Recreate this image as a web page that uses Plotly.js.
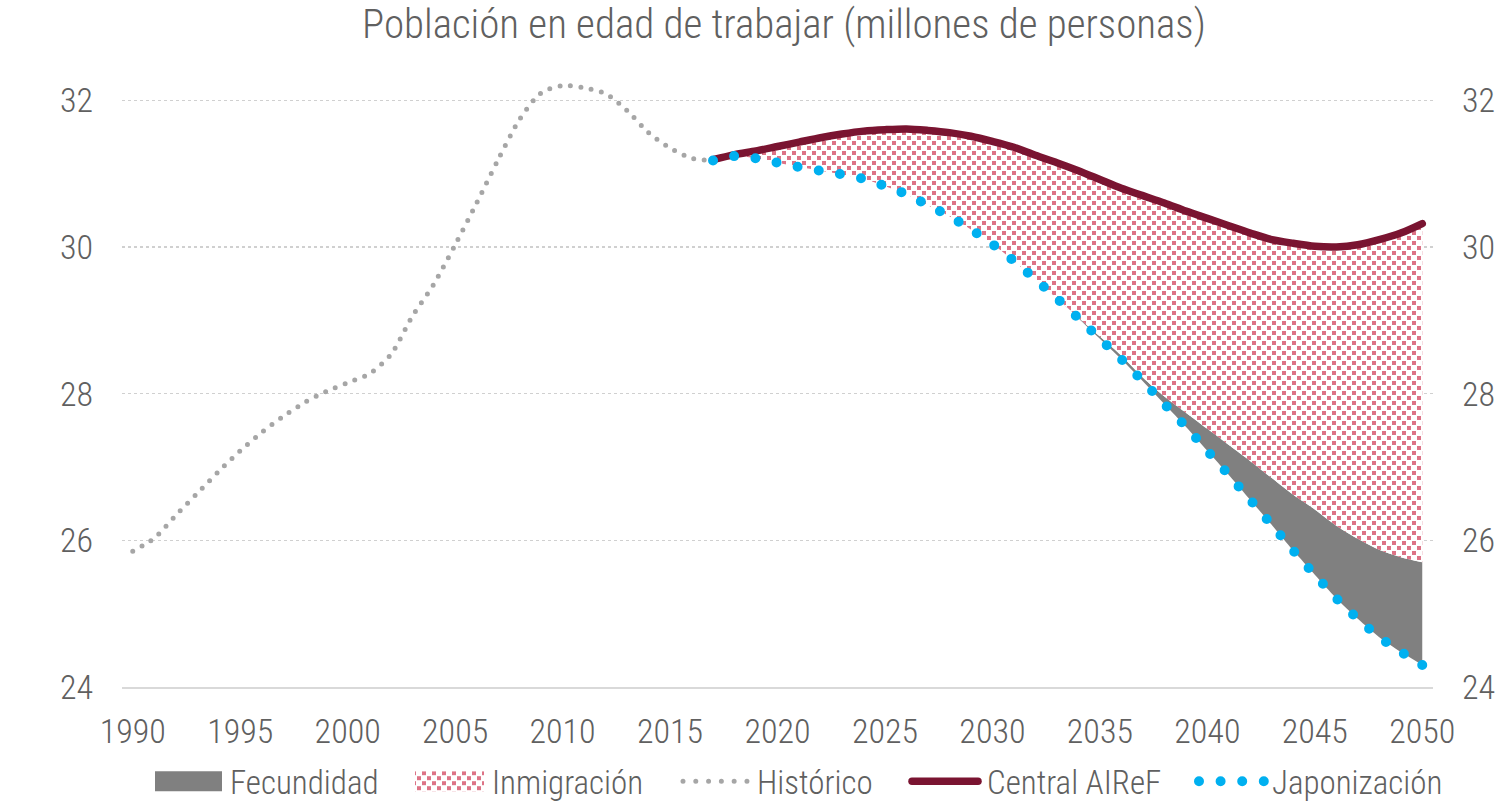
<!DOCTYPE html>
<html>
<head>
<meta charset="utf-8">
<script src="https://cdn.plot.ly/plotly-3.0.1.min.js"></script>
<style>
  html, body { margin: 0; padding: 0; background: #ffffff; }
  #chart { width: 1499px; height: 803px; }
</style>
</head>
<body>
<div id="chart"></div>
<script>
// ---- Data (millones de personas) ----
const histYears = [1990,1991,1992,1993,1994,1995,1996,1997,1998,1999,2000,2001,2002,2003,2004,2005,2006,2007,2008,2009,2010,2011,2012,2013,2014,2015,2016,2017];
const historico = [25.85,26.03,26.34,26.64,26.94,27.22,27.47,27.69,27.88,28.03,28.15,28.27,28.53,29.05,29.49,30.03,30.60,31.19,31.74,32.10,32.20,32.17,32.09,31.86,31.56,31.35,31.21,31.18];

const projYears = [2017,2018,2019,2020,2021,2022,2023,2024,2025,2026,2027,2028,2029,2030,2031,2032,2033,2034,2035,2036,2037,2038,2039,2040,2041,2042,2043,2044,2045,2046,2047,2048,2049,2050];
const centralAIReF = [31.19,31.26,31.31,31.37,31.43,31.49,31.54,31.58,31.60,31.61,31.59,31.56,31.51,31.44,31.36,31.25,31.15,31.04,30.92,30.80,30.70,30.60,30.49,30.39,30.29,30.19,30.10,30.05,30.01,30.00,30.03,30.10,30.19,30.32];
const escenarioFecundidad = [31.18,31.24,31.21,31.15,31.09,31.04,30.99,30.93,30.83,30.72,30.57,30.42,30.24,30.04,29.81,29.56,29.30,29.04,28.78,28.52,28.22,27.96,27.74,27.52,27.30,27.08,26.85,26.62,26.42,26.20,26.02,25.87,25.77,25.70];
const japonizacion = [31.18,31.24,31.21,31.15,31.09,31.04,30.99,30.93,30.83,30.72,30.57,30.42,30.24,30.04,29.81,29.56,29.30,29.03,28.75,28.47,28.17,27.86,27.55,27.22,26.89,26.55,26.21,25.86,25.53,25.21,24.93,24.68,24.48,24.30];

const xTicks = [1990,1995,2000,2005,2010,2015,2020,2025,2030,2035,2040,2045,2050];
const yTicks = [24,26,28,30,32];

const FONT = '"Liberation Sans Narrow", "Arial Narrow", "Roboto Condensed", "Liberation Sans", sans-serif';
const TXT = '#606060';
const PINK = '#DD7386';

const traces = [
  { x: projYears, y: japonizacion, type: 'scatter', mode: 'lines',
    line: { width: 0, shape: 'spline', smoothing: 0.8 }, showlegend: false, hoverinfo: 'skip' },
  { name: 'Fecundidad', x: projYears, y: escenarioFecundidad, type: 'scatter', mode: 'lines',
    line: { width: 0, shape: 'spline', smoothing: 0.8, color: '#808080' },
    fill: 'tonexty', fillcolor: '#808080', legendrank: 1 },
  { name: 'Inmigración', x: projYears, y: centralAIReF, type: 'scatter', mode: 'lines',
    line: { width: 0, shape: 'spline', smoothing: 0.8, color: PINK },
    fill: 'tonexty', fillcolor: '#ffffff',
    fillpattern: { shape: '.', fgcolor: PINK, bgcolor: '#ffffff', size: 6, solidity: 0.4 },
    legendrank: 2 },
  { name: 'Histórico', x: histYears, y: historico, type: 'scatter', mode: 'lines',
    line: { width: 5, color: '#A6A6A6', dash: '0px,10.5px', shape: 'spline', smoothing: 0.8 },
    legendrank: 3 },
  { name: 'Central AIReF', x: projYears, y: centralAIReF, type: 'scatter', mode: 'lines',
    line: { width: 7.5, color: '#7A1431', shape: 'spline', smoothing: 0.8 },
    legendrank: 4 },
  { name: 'Japonización', x: projYears, y: japonizacion, type: 'scatter', mode: 'lines',
    line: { width: 10, color: '#00B0F0', dash: '0px,21.5px', shape: 'spline', smoothing: 0.8 },
    legendrank: 5 },
  // invisible helper so the mirrored right-hand axis is drawn
  { x: histYears, y: historico, type: 'scatter', mode: 'lines', yaxis: 'y2',
    line: { width: 0 }, opacity: 0, showlegend: false, hoverinfo: 'skip' }
];

const layout = {
  width: 1499, height: 803,
  paper_bgcolor: '#ffffff', plot_bgcolor: '#ffffff',
  margin: { l: 122, r: 66, t: 71, b: 116, pad: 0, autoexpand: false },
  font: { family: FONT, color: TXT, size: 32, weight: 300 },
  title: { text: 'Población en edad de trabajar (millones de personas)',
           font: { family: FONT, size: 41, color: TXT, weight: 300 },
           x: 0.523, xanchor: 'center', y: 0.97, yanchor: 'middle' },
  showlegend: true,
  legend: { orientation: 'h', x: 0.53, xanchor: 'center', y: -0.153, yanchor: 'middle',
            font: { family: FONT, size: 33, color: TXT, weight: 300 }, itemwidth: 70,
            traceorder: 'normal', bgcolor: 'rgba(0,0,0,0)' },
  xaxis: { range: [1989.5, 2050.5], tickvals: xTicks, ticktext: xTicks.map(String),
           showgrid: false, zeroline: false, showline: true, linecolor: '#D9D9D9', linewidth: 2,
           ticks: '', automargin: false,
           tickfont: { family: FONT, size: 34, color: TXT, weight: 300 }, ticklabelstandoff: 13 },
  yaxis: { range: [24, 32.4], tickvals: yTicks, ticktext: yTicks.map(String),
           showgrid: true, gridcolor: '#D0D0D0', gridwidth: 1.2, griddash: 'dot',
           zeroline: false, showline: false, ticks: '', automargin: false,
           tickfont: { family: FONT, size: 34, color: TXT, weight: 300 }, ticklabelstandoff: 28 },
  yaxis2: { range: [24, 32.4], tickvals: yTicks, ticktext: yTicks.map(String),
            overlaying: 'y', side: 'right', showgrid: false, zeroline: false, showline: false,
            ticks: '', automargin: false,
            tickfont: { family: FONT, size: 34, color: TXT, weight: 300 }, ticklabelstandoff: 28 }
};

// Legend entry placement (absolute px), matching the reference layout
const legendTargets = {
  'Fecundidad':    { text: 230,  kind: 'rect', x0: 155,  x1: 222 },
  'Inmigración':   { text: 492,  kind: 'rect', x0: 415,  x1: 484 },
  'Histórico':     { text: 757,  kind: 'line', x0: 683,  x1: 747, dash: '0,12.79' },
  'Central AIReF': { text: 987,  kind: 'line', x0: 912,  x1: 978 },
  'Japonización':  { text: 1272, kind: 'line', x0: 1199, x1: 1264, dash: '0,21.6' }
};

function restyleSvg() {
  // round caps for every line (dotted lines become round dots)
  document.querySelectorAll('path.js-line').forEach(function (p) { p.style.strokeLinecap = 'round'; });

  // let the Japonización dots end exactly on its last point
  const tracesG = document.querySelectorAll('.scatterlayer .trace');
  if (tracesG[5]) {
    const jp = tracesG[5].querySelector('path.js-line');
    if (jp) {
      const L = jp.getTotalLength();
      const n = Math.max(1, Math.round(L / 21.5));
      jp.style.strokeDasharray = '0,' + (L / n - 0.001);
    }
  }

  // checkerboard-like square pattern for "Inmigración"
  const NS = 'http://www.w3.org/2000/svg';
  const TILE = 10, SQ = 4;
  document.querySelectorAll('pattern').forEach(function (pat) {
    while (pat.firstChild) pat.removeChild(pat.firstChild);
    pat.setAttribute('width', TILE); pat.setAttribute('height', TILE);
    pat.setAttribute('patternUnits', 'userSpaceOnUse');
    const bg = document.createElementNS(NS, 'rect');
    bg.setAttribute('x', 0); bg.setAttribute('y', 0); bg.setAttribute('width', TILE); bg.setAttribute('height', TILE);
    bg.setAttribute('fill', '#ffffff'); pat.appendChild(bg);
    [[0, 0], [TILE / 2, TILE / 2]].forEach(function (c) {
      const r = document.createElementNS(NS, 'rect');
      r.setAttribute('x', c[0]); r.setAttribute('y', c[1]); r.setAttribute('width', SQ); r.setAttribute('height', SQ);
      r.setAttribute('fill', PINK); r.setAttribute('shape-rendering', 'crispEdges');
      pat.appendChild(r);
    });
  });

  // legend placement
  document.querySelectorAll('.legend .scrollbox').forEach(function (sb) { sb.removeAttribute('clip-path'); });
  document.querySelectorAll('.legend .traces').forEach(function (g) {
    const t = g.querySelector('text.legendtext');
    if (!t) return;
    const tg = legendTargets[t.textContent];
    if (!tg) return;
    const tr = g.getAttribute('transform') || 'translate(0,0)';
    const m = /translate\(\s*([-\d.e]+)[\s,]+([-\d.e]+)\s*\)/.exec(tr) || [0, 0, 0];
    const dx = tg.text - t.getBoundingClientRect().left;
    g.setAttribute('transform', 'translate(' + (parseFloat(m[1]) + dx) + ',' + parseFloat(m[2]) + ')');
    const ox = g.getScreenCTM().e;
    if (tg.kind === 'rect') {
      g.querySelectorAll('.legendfill path').forEach(function (p) {
        const w = tg.x1 - tg.x0;
        p.setAttribute('d', 'M' + (tg.x0 - ox) + ',-10h' + w + 'v20h' + (-w) + 'z');
      });
      g.querySelectorAll('.legendlines path').forEach(function (p) { p.style.display = 'none'; });
    } else {
      g.querySelectorAll('.legendlines path').forEach(function (p) {
        p.setAttribute('d', 'M' + (tg.x0 - ox) + ',0H' + (tg.x1 - ox));
        p.style.strokeLinecap = 'round';
        if (tg.dash) p.style.strokeDasharray = tg.dash;
      });
    }
  });
}

Plotly.newPlot('chart', traces, layout, { displayModeBar: false, staticPlot: true }).then(restyleSvg);
</script>
</body>
</html>
